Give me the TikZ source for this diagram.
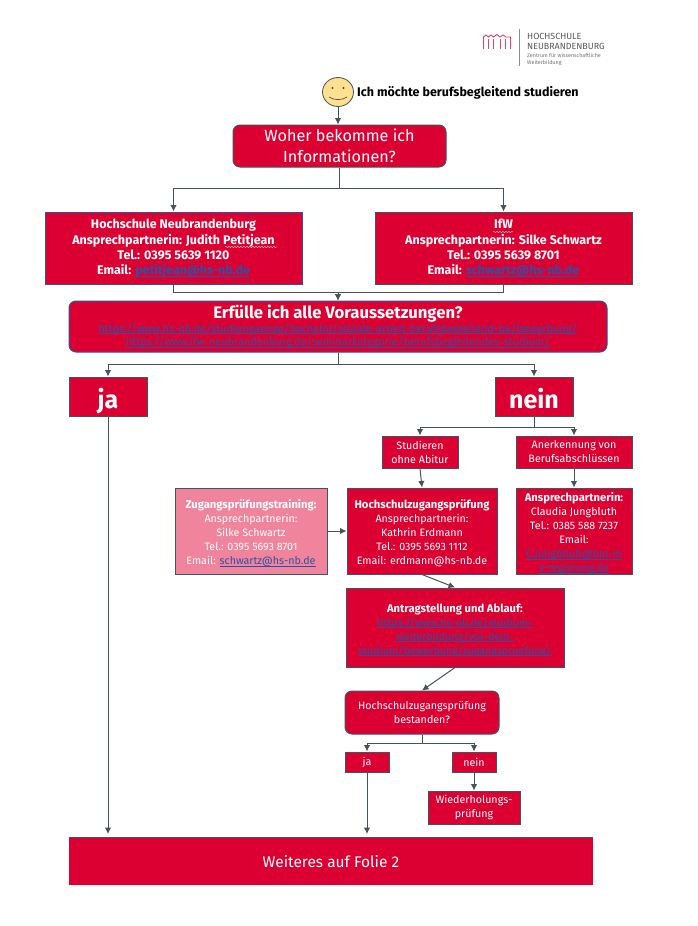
\documentclass[tikz,border=0pt]{standalone}
\usepackage{fontspec}
\setmainfont{Fira Sans}
\usetikzlibrary{shapes.geometric,decorations.pathmorphing,arrows.meta}
\definecolor{hsred}{HTML}{DC0032}
\definecolor{hspink}{HTML}{F0849C}
\definecolor{hsline}{HTML}{44545A}
\definecolor{hsblue}{HTML}{2F5597}
\definecolor{linkblue}{HTML}{2A52A8}
\definecolor{smileyellow}{HTML}{FFE08F}
\newcommand{\linktext}[1]{\textcolor{linkblue}{\underline{\smash{#1}}}}
\newcommand{\fs}[2]{\fontsize{#1}{#2}\selectfont}
\newcommand{\boxhead}[1]{{\fs{11.2}{14}\bfseries\rule{0pt}{13pt}#1}}
\tikzset{
  redbox/.style={draw=hsline, line width=1pt, fill=hsred, text=white, align=center, inner sep=0pt, font=\fs{10.7}{14}},
  bluebox/.style={redbox, draw=hsblue},
  roundbox/.style={redbox, rounded corners=7pt},
  pinkbox/.style={redbox, fill=hspink},
  bigbox/.style={redbox, minimum width=78pt, minimum height=39pt, font=\fs{25}{28}\bfseries, text height=24pt, text depth=0pt},
  conn/.style={->, draw=hsline, line width=1pt},
  logotext/.style={inner sep=0pt, anchor=west},
  wavy/.style={draw=white!80!hsred, line width=0.4pt, decorate, decoration={snake, amplitude=0.6pt, segment length=3pt}}
}
\begin{document}
\begin{tikzpicture}[x=1pt, y=1pt, >={Latex[length=6.5pt,width=6.5pt]}, node distance=60pt]
  \useasboundingbox (0,0) rectangle (697,-926);
  % logo
  \draw[hsred!75, line width=0.9pt] (483.5,-49) -- (483.5,-37) -- (486,-35) -- (488.5,-37) -- (491,-35) -- (493.5,-37) -- (497,-34.5) -- (500,-37) -- (503,-35) -- (506,-37) -- (510.5,-37) -- (510.5,-49);
  \draw[hsred!75, line width=0.9pt] (488.5,-39) -- (488.5,-49) (493.5,-39) -- (493.5,-49) (500,-39) -- (500,-49) (505,-39) -- (505,-49);
  \draw[black!45, line width=1pt] (519,-29) -- (519,-66);
  \node (logoa) [logotext, text=black!65, font=\fs{8.9}{10}] at (527,-36) {HOCHSCHULE};
  \node (logob) [logotext, text=black!65, font=\fs{8.9}{10}] at (527,-46) {NEUBRANDENBURG};
  \node (logoc) [logotext, text=black!55, font=\fs{5.4}{6}] at (527,-55.5) {Zentrum für wissenschaftliche};
  \node (logod) [logotext, text=black!55, font=\fs{5.4}{6}] at (527,-62.5) {Weiterbildung};
  % start
  \node (smile) [ellipse, draw=hsline, line width=0.8pt, fill=smileyellow, minimum width=31pt, minimum height=29pt, inner sep=0pt] at (338,-92) {};
  \fill[hsline] (332.5,-88) circle (1.2pt) (343.5,-88) circle (1.2pt);
  \draw[hsline, line width=0.7pt] (329,-97) .. controls (334,-100.5) and (342,-100.5) .. (347,-97);
  \node (wish) [inner sep=0pt, anchor=west, font=\fs{12.5}{14}\bfseries] at (357,-92.5) {Ich möchte berufsbegleitend studieren};
  \node (woher) [roundbox, minimum width=213pt, minimum height=42pt, font=\fs{16.2}{21}] at (339.5,-146) {Woher bekomme ich\\Informationen?};
  % contacts
  \node (hsnb) [bluebox, minimum width=257pt, minimum height=72pt, font=\fs{12.5}{15.3}\bfseries] at (173.5,-248) {Hochschule Neubrandenburg\\Ansprechpartnerin: Judith Petitjean\\Tel.: 0395 5639 1120\\Email: \linktext{petitjean@hs-nb.de}};
  \node (ifw) [redbox, minimum width=257pt, minimum height=72pt, font=\fs{12.5}{15.3}\bfseries] at (503.5,-248) {IfW\\Ansprechpartnerin: Silke Schwartz\\Tel.: 0395 5639 8701\\Email: \linktext{schwartz@hs-nb.de}};
  \draw[wavy] (225,-247) -- (277,-247);
  \draw[wavy] (493,-232) -- (513,-232);
  \node (erfuelle) [bluebox, rounded corners=7pt, minimum width=538pt, minimum height=51pt, font=\fs{10.9}{13.5}] at (338,-326.5) {{\fs{16.7}{18}\bfseries Erfülle ich alle Voraussetzungen?}\\\linktext{https://www.hs-nb.de/studiengaenge/bachelor/soziale-arbeit-berufsbegleitend-ba/bewerbung/}\\\linktext{https://www.ifw-neubrandenburg.de/seminarkategorie/berufsbegleitendes-studium/}};
  \node (ja) [bigbox] at (108,-396.5) {ja};
  \node (nein) [bigbox] at (534,-396.5) {nein};
  % right branch
  \node (studieren) [redbox, minimum width=76pt, minimum height=32pt] at (420,-452) {Studieren\\ohne Abitur};
  \node (anerkennung) [redbox, minimum width=116pt, minimum height=32pt] at (574,-452) {Anerkennung von\\Berufsabschlüssen};
  \node (pruefung) [redbox, minimum width=150pt, minimum height=86pt] at (422,-531) {\boxhead{Hochschulzugangsprüfung}\\Ansprechpartnerin:\\Kathrin Erdmann\\Tel.: 0395 5693 1112\\Email: erdmann@hs-nb.de};
  \node (training) [pinkbox, minimum width=152pt, minimum height=86pt] at (251,-531) {\boxhead{Zugangsprüfungstraining:}\\Ansprechpartnerin:\\Silke Schwartz\\Tel.: 0395 5693 8701\\Email: \linktext{schwartz@hs-nb.de}};
  \node (kontakt) [redbox, minimum width=116pt, minimum height=86pt, below of =anerkennung, node distance=79pt] {\boxhead{Ansprechpartnerin:}\\Claudia Jungbluth\\Tel.: 0385 588 7237\\Email:\\\linktext{C.Jungbltuh@bm-m}\\\linktext{v-regierung.de}};
  \node (antrag) [redbox, minimum width=218pt, minimum height=79pt] at (455,-627.5) {\boxhead{Antragstellung und Ablauf:}\\\linktext{https://www.hs-nb.de/studium-}\\\linktext{weiterbildung/vor-dem-}\\\linktext{studium/bewerbung/zugangspruefung/}};
  \node (bestanden) [roundbox, minimum width=154pt, minimum height=43pt] at (422,-712.5) {Hochschulzugangsprüfung\\bestanden?};
  \node (ja2) [redbox, minimum width=44pt, minimum height=20pt] at (367,-762) {ja};
  \node (nein2) [redbox, minimum width=44pt, minimum height=20pt] at (474,-762) {nein};
  \node (wiederholung) [redbox, minimum width=92pt, minimum height=33pt, below of =nein2, node distance=45.5pt] {Wiederholungs-\\prüfung};
  \node (weiter) [draw=none, fill=hsred, text=white, inner sep=0pt, minimum width=524pt, minimum height=47pt, font=\fs{15.5}{18}] at (331,-861.5) {Weiteres auf Folie 2};
  \draw[hsblue, line width=1pt] (weiter.north west) -- (weiter.north east);
  \coordinate (jaend) at (108,-834);
  \coordinate (ja2end) at (367,-834);
  % connectors
  \draw[conn] (smile) -- (smile |- woher.north);
  \draw[conn] (woher.south) -- ++(0,-21) -| (hsnb.north);
  \draw[conn] (woher.south) -- ++(0,-21) -| (ifw.north);
  \draw[conn] (hsnb.south) -- ++(0,-8) -| (erfuelle.north);
  \draw[conn] (ifw.south) -- ++(0,-8) -| (erfuelle.north);
  \draw[conn] (erfuelle.south) -- ++(0,-12) -| (ja.north);
  \draw[conn] (erfuelle.south) -- ++(0,-12) -| (nein.north);
  \draw[conn] (ja.south) -- (jaend);
  \draw[conn] (nein.south) -- ++(0,-11) -| (studieren.north);
  \draw[conn] (nein.south) -- ++(0,-11) -| (anerkennung.north);
  \draw[conn] (studieren.south) -- (pruefung.north);
  \draw[conn] (anerkennung) -- (kontakt);
  \draw[conn] (training) -- (pruefung);
  \draw[conn] (pruefung.south) -- (antrag.north);
  \draw[conn] (antrag.south) -- (bestanden.north);
  \draw[conn] (bestanden.south) -- ++(0,-9) -| (ja2.north);
  \draw[conn] (bestanden.south) -- ++(0,-9) -| (nein2.north);
  \draw[conn] (ja2.south) -- (ja2end);
  \draw[conn] (nein2) -- (wiederholung);
\end{tikzpicture}
\end{document}
